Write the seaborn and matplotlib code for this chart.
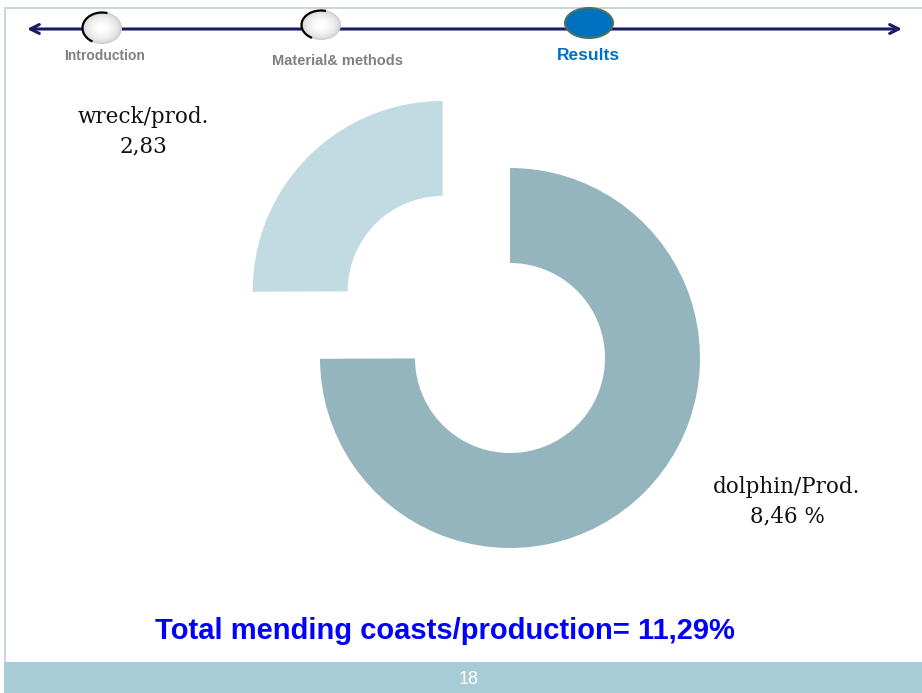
import matplotlib
matplotlib.use("Agg")
import matplotlib.pyplot as plt
from matplotlib.patches import Ellipse, Arc, Rectangle
import seaborn as sns
import numpy as np

# Share of mending costs in production
categories = ["dolphin/Prod.", "wreck/prod."]
shares = [8.46, 2.83]
value_suffix = [" %", ""]
total_share = 11.29

# Navigation steps in the header
steps = ["Introduction", "Material& methods", "Results"]

sns.set_theme(style="white")
plt.rcParams["font.family"] = ["Liberation Sans", "DejaVu Sans"]

W, H = 922, 693
fig = plt.figure(figsize=(W / 100, H / 100), dpi=100)
ax = fig.add_axes([0, 0, 1, 1])


def Y(y):
    """Convert a top-down pixel row to the axes' bottom-up coordinate."""
    return H - y


def fmt(v):
    return f"{v:.2f}".replace(".", ",")


# ---- donut ----
radius = 190
ring = 95
wedge_colors = ["#95B5BE", "#C2DAE1"]
explode = [0, 0.5 * radius]
ax.pie(shares, colors=wedge_colors, startangle=90, counterclock=False,
       radius=radius, center=(510, Y(358)), explode=explode,
       wedgeprops=dict(width=ring, linewidth=0))

ax.set_xlim(0, W)
ax.set_ylim(0, H)
ax.set_aspect("auto")
ax.axis("off")

# value labels
label_pos = [(787, 487), (143, 117)]
for name, v, suf, (lx, ly) in zip(categories, shares, value_suffix, label_pos):
    ax.text(lx, Y(ly), name, ha="center", va="center",
            fontsize=15.5, family="DejaVu Serif", color="#111111")
    ax.text(lx, Y(ly + 29), fmt(v) + suf, ha="center", va="center",
            fontsize=15.5, family="DejaVu Serif", color="#111111")

# ---- slide frame ----
frame_c = "#C8D8DD"
ax.plot([5, 5], [Y(8), Y(662)], color=frame_c, lw=1.5, zorder=1)
ax.plot([5, W], [Y(8), Y(8)], color=frame_c, lw=1.5, zorder=1)
ax.add_patch(Rectangle((4, 0), W - 4, 31, color="#A8CCD5", lw=0))
ax.text(469, Y(679), "18", ha="center", va="center", color="white", fontsize=13)

# ---- header navigation ----
navy = "#1C1C66"
ax.annotate("", xy=(27, Y(29)), xytext=(902, Y(29)),
            arrowprops=dict(arrowstyle="<->", color=navy, lw=2.2,
                            mutation_scale=16, shrinkA=0, shrinkB=0),
            zorder=2)


def sphere(cx, cy, w, h):
    n = 16
    for i in range(n):
        f = 1 - i / n
        g = 0.80 + 0.20 * min(1.0, (i / (n - 1)) ** 0.5 * 1.1)
        ax.add_patch(Ellipse((cx, Y(cy)), w * f, h * f, color=(g, g, g),
                             lw=0, zorder=5))
    ax.add_patch(Arc((cx, Y(cy)), w - 1, h - 1, theta1=70, theta2=235,
                     color="black", lw=1.6, zorder=6))


sphere(102, 28, 40, 32)
sphere(321, 25, 40, 30)
ax.add_patch(Ellipse((589, Y(23)), 48, 30, facecolor="#0070C0",
                     edgecolor="#4A7562", lw=1.5, zorder=5))

ax.text(105, Y(56), steps[0], ha="center", va="center", color="#808080",
        fontsize=10, fontweight="bold")
ax.text(337, Y(61), steps[1], ha="center", va="center", color="#808080",
        fontsize=10.5, fontweight="bold")
ax.text(588, Y(56), steps[2], ha="center", va="center", color="#0070C0",
        fontsize=12.5, fontweight="bold")

# ---- total ----
ax.text(445, Y(631), f"Total mending coasts/production= {fmt(total_share)}%",
        ha="center", va="center", color="#0000FF", fontsize=21, fontweight="bold")

fig.savefig("out.png", dpi=100)
